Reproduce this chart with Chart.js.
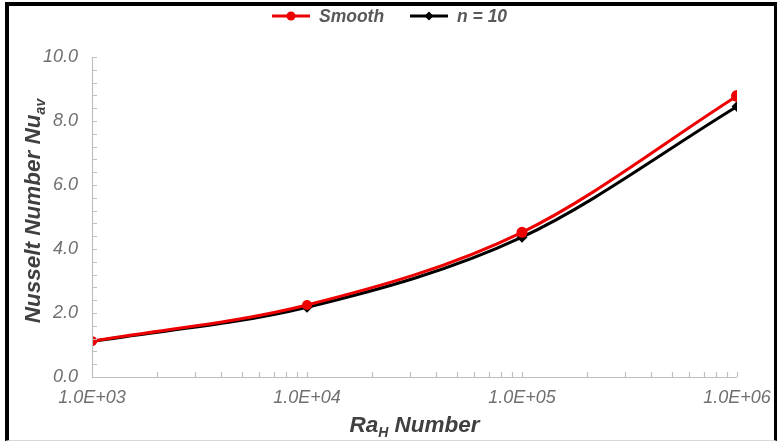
<!DOCTYPE html>
<html>
<head>
<meta charset="utf-8">
<script src="https://cdn.jsdelivr.net/npm/chart.js@4.4.1/dist/chart.umd.min.js"></script>
<style>
  html, body { margin: 0; padding: 0; background: #fff; }
  #wrap { position: relative; width: 777px; height: 444px; }
  #frame {
    position: absolute; left: 5px; top: 2px; right: 0; bottom: 3px;
    border-left: 4px solid #000; border-top: 4px solid #000;
    border-right: 3px solid #000; border-bottom: 1px solid #d8d8d8;
    pointer-events: none;
  }
</style>
</head>
<body>
<div id="wrap">
  <canvas id="c" width="777" height="444"></canvas>
  <div id="frame"></div>
</div>
<script>
// Rayleigh numbers (log axis) and average Nusselt numbers
const raValues = [1e3, 1e4, 1e5, 1e6];
const nuSmooth = [1.12, 2.25, 4.52, 8.78];
const nuN10 = [1.11, 2.18, 4.37, 8.45];
const seriesNames = ['Smooth', 'n = 10'];
const xTickLabels = ['1.0E+03', '1.0E+04', '1.0E+05', '1.0E+06'];
const yTickValues = [0, 2, 4, 6, 8, 10];

const RED = '#ee0000';
const BLACK = '#000000';
const AXIS = '#bfbfbf';
const TICK_TXT = '#707070';
const TITLE_TXT = '#404040';

function pts(xs, ys) { return xs.map((x, i) => ({ x: x, y: ys[i] })); }

// axis lines, inward tick marks, titles with subscripts and legend
const decor = {
  id: 'decor',
  afterDraw(chart) {
    const ctx = chart.ctx;
    const xs = chart.scales.x, ys = chart.scales.y;
    const a = chart.chartArea;
    ctx.save();
    ctx.strokeStyle = AXIS;
    ctx.lineWidth = 1.2;
    ctx.beginPath();
    ctx.moveTo(a.left + 0.5, a.top);
    ctx.lineTo(a.left + 0.5, a.bottom + 0.5);
    ctx.lineTo(a.right, a.bottom + 0.5);
    // y minor ticks every 0.4
    for (let v = 0; v <= 10.001; v += 0.4) {
      const py = Math.round(ys.getPixelForValue(v)) + 0.5;
      ctx.moveTo(a.left, py); ctx.lineTo(a.left + 5, py);
    }
    // x ticks at 1..9 x decade
    for (let d = 3; d <= 6; d++) {
      for (let m = 1; m <= 9; m++) {
        const v = m * Math.pow(10, d);
        if (v > 1e6 || v <= 1e3) continue;
        const px = Math.round(xs.getPixelForValue(v)) + 0.5;
        ctx.moveTo(px, a.bottom); ctx.lineTo(px, a.bottom - 5);
      }
    }
    ctx.stroke();

    // axis titles with subscripts
    ctx.fillStyle = TITLE_TXT;
    ctx.textBaseline = 'alphabetic';
    const big = 'italic bold 22.5px "Liberation Sans", Arial, sans-serif';
    const small = 'italic bold 14px "Liberation Sans", Arial, sans-serif';
    function drawSub(parts, cx, cy) {
      let w = 0;
      parts.forEach(p => { ctx.font = p.sub ? small : big; w += ctx.measureText(p.t).width; });
      let x = cx - w / 2;
      parts.forEach(p => {
        ctx.font = p.sub ? small : big;
        ctx.fillText(p.t, x, cy + (p.sub ? 5 : 0));
        x += ctx.measureText(p.t).width;
      });
    }
    drawSub([{ t: 'Ra' }, { t: 'H', sub: true }, { t: ' Number' }], (a.left + a.right) / 2, 432);
    ctx.save();
    ctx.translate(30, (a.top + a.bottom) / 2 - 6);
    ctx.rotate(-Math.PI / 2);
    drawSub([{ t: 'Nusselt Number Nu' }, { t: 'av', sub: true }], 0, 10);
    ctx.restore();

    // legend
    const ly = 16;
    ctx.font = 'italic bold 17.5px "Liberation Sans", Arial, sans-serif';
    const items = [
      { name: seriesNames[0], color: RED, marker: 'circle', x0: 272 },
      { name: seriesNames[1], color: BLACK, marker: 'diamond', x0: 410 }
    ];
    items.forEach(it => {
      ctx.strokeStyle = it.color; ctx.lineWidth = 3;
      ctx.beginPath(); ctx.moveTo(it.x0, ly); ctx.lineTo(it.x0 + 38, ly); ctx.stroke();
      ctx.fillStyle = it.color;
      const mx = it.x0 + 19;
      ctx.beginPath();
      if (it.marker === 'circle') { ctx.arc(mx, ly, 4.5, 0, Math.PI * 2); }
      else { ctx.moveTo(mx, ly - 4.5); ctx.lineTo(mx + 4.5, ly); ctx.lineTo(mx, ly + 4.5); ctx.lineTo(mx - 4.5, ly); ctx.closePath(); }
      ctx.fill();
      ctx.fillStyle = '#595959';
      ctx.textBaseline = 'middle';
      ctx.fillText(it.name, it.x0 + 47, ly + 1);
    });
    ctx.restore();
  }
};

new Chart(document.getElementById('c'), {
  type: 'line',
  data: {
    datasets: [
      {
        label: seriesNames[0], data: pts(raValues, nuSmooth),
        borderColor: RED, backgroundColor: RED, borderWidth: 3,
        pointStyle: 'circle', pointRadius: [5, 5, 5.5, 6], pointBorderWidth: 0,
        tension: 0.4, cubicInterpolationMode: 'monotone'
      },
      {
        label: seriesNames[1], data: pts(raValues, nuN10),
        borderColor: BLACK, backgroundColor: BLACK, borderWidth: 3,
        pointStyle: 'rectRot', pointRadius: 5.5, pointBorderWidth: 0,
        tension: 0.4, cubicInterpolationMode: 'monotone'
      }
    ]
  },
  options: {
    responsive: false,
    animation: false,
    devicePixelRatio: 1,
    layout: { padding: { left: 0, right: 40, top: 57, bottom: 0 } },
    plugins: { legend: { display: false }, tooltip: { enabled: false } },
    scales: {
      x: {
        type: 'logarithmic', min: 1e3, max: 1e6,
        grid: { display: false, drawTicks: false },
        border: { display: false },
        afterBuildTicks(scale) { scale.ticks = raValues.map(v => ({ value: v })); },
        afterFit(scale) { scale.height = 67; scale.paddingLeft = 0; scale.paddingRight = 0; },
        ticks: {
          padding: 10, maxRotation: 0, autoSkip: false,
          color: TICK_TXT, font: { family: '"Liberation Sans", Arial', size: 18, style: 'italic' },
          callback: (v) => xTickLabels[raValues.indexOf(v)]
        }
      },
      y: {
        min: 0, max: 10,
        grid: { display: false, drawTicks: false },
        border: { display: false },
        afterBuildTicks(scale) { scale.ticks = yTickValues.map(v => ({ value: v })); },
        afterFit(scale) { scale.width = 92; scale.paddingTop = 0; scale.paddingBottom = 0; },
        ticks: {
          padding: 14,
          color: TICK_TXT, font: { family: '"Liberation Sans", Arial', size: 18, style: 'italic' },
          callback: (v) => Number(v).toFixed(1)
        }
      }
    }
  },
  plugins: [decor]
});
</script>
</body>
</html>
